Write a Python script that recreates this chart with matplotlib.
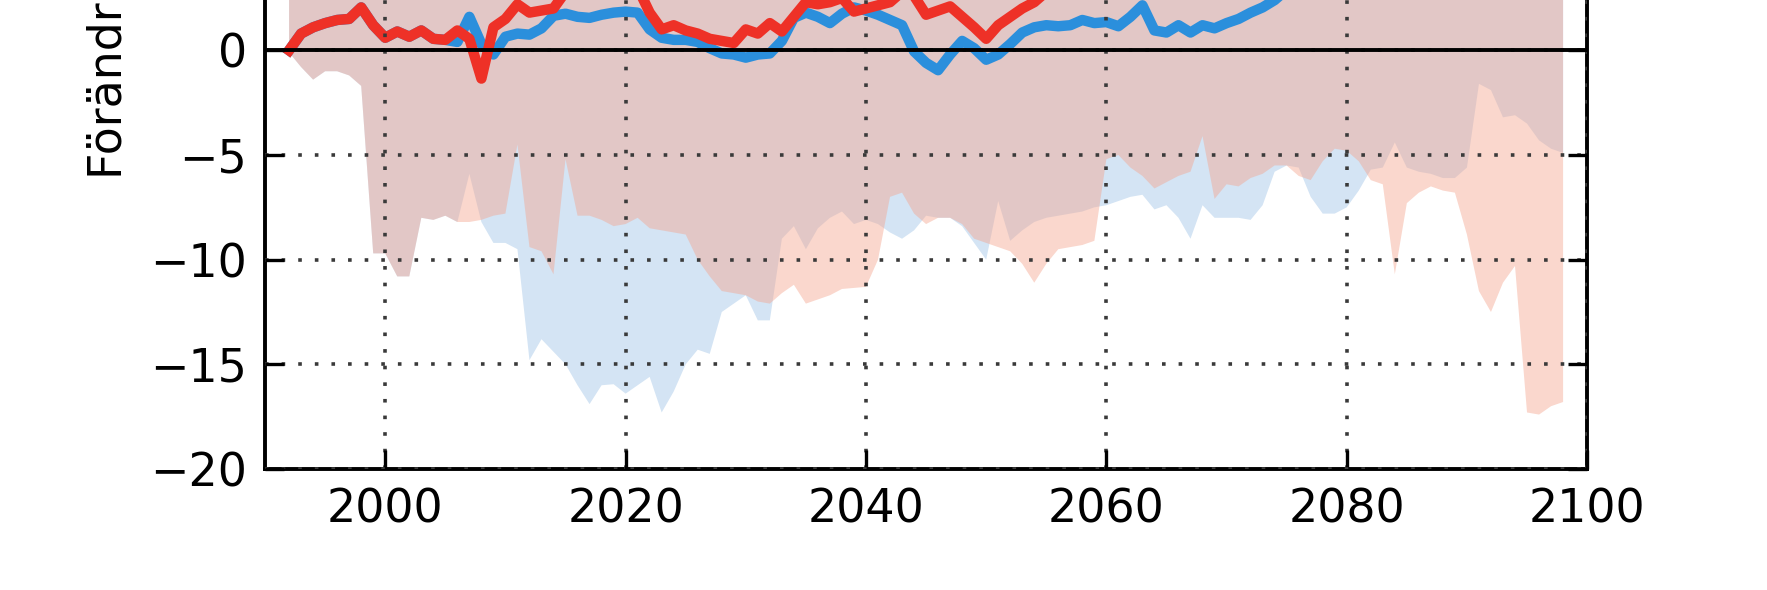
import matplotlib
matplotlib.use('Agg')
import matplotlib.pyplot as plt
import numpy as np

# years 1992-2098, one value per year
years = list(range(1992, 2099))

red_line = [0.0, 0.8, 1.1, 1.3, 1.45, 1.5, 2.05, 1.2, 0.6, 0.9,
            0.65, 0.95, 0.55, 0.5, 0.95, 0.55, -1.35, 1.1, 1.5, 2.2,
            1.8, 1.9, 2.0, 2.8, 3.2, 3.0, 3.4, 3.1, 3.0, 3.0,
            1.8, 1.0, 1.2, 0.95, 0.8, 0.55, 0.45, 0.35, 1.0, 0.8,
            1.3, 0.9, 1.6, 2.3, 2.2, 2.3, 2.5, 1.85, 2.0, 2.15,
            2.3, 2.8, 2.6, 1.7, 1.9, 2.1, 1.6, 1.1, 0.55, 1.2,
            1.6, 2.0, 2.3, 2.8, 3.2, 3.5, 3.4, 3.9, 4.2, 4.0,
            4.5, 4.8, 4.6, 5.1, 5.4, 5.2, 5.7, 6.0, 5.8, 6.3,
            6.5, 6.2, 6.8, 7.0, 6.9, 7.3, 7.6, 7.4, 7.9, 8.1,
            7.8, 8.3, 8.6, 8.4, 8.9, 9.1, 8.8, 9.4, 9.6, 9.3,
            9.8, 10.1, 9.9, 10.4, 10.6, 10.3, 10.8]

blue_line = [0.0, 0.8, 1.1, 1.3, 1.45, 1.5, 2.05, 1.2, 0.6, 0.9,
             0.65, 0.95, 0.55, 0.5,
             0.4, 1.6, 0.3, -0.2, 0.65, 0.8, 0.75, 1.05, 1.65, 1.75,
             1.6, 1.55, 1.7, 1.8, 1.85, 1.8, 1.0, 0.6, 0.5, 0.5,
             0.4, 0.1, -0.15, -0.2, -0.35, -0.2, -0.15, 0.45, 1.55, 1.8,
             1.6, 1.3, 1.75, 2.05, 1.9, 1.7, 1.45, 1.2, -0.05, -0.6,
             -0.95, -0.2, 0.45, 0.1, -0.45, -0.2, 0.3, 0.85, 1.1, 1.2,
             1.15, 1.2, 1.45, 1.3, 1.35, 1.15, 1.6, 2.15, 0.95, 0.85,
             1.2, 0.85, 1.2, 1.05, 1.3, 1.5, 1.8, 2.05, 2.4, 2.9,
             3.1, 3.0, 3.4, 3.3, 3.6, 3.5, 3.9, 3.8, 4.1, 4.0,
             4.3, 4.5, 4.2, 4.6, 4.8, 4.5, 4.9, 5.1, 4.8, 5.2,
             5.4, 5.1, 5.5]

red_lo = [-0.1, -0.8, -1.4, -1.0, -1.0, -1.2, -1.7, -9.7, -9.7, -10.8,
          -10.8, -8.0, -8.1, -7.9, -8.2, -8.2, -8.1, -7.9, -7.8, -4.5,
          -9.4, -9.6, -10.7, -5.2, -7.9, -7.9, -8.1, -8.4, -8.3, -8.0,
          -8.5, -8.6, -8.7, -8.8, -10.0, -10.8, -11.5, -11.6, -11.7, -12.0,
          -12.1, -11.6, -11.2, -12.1, -11.9, -11.7, -11.4, -11.35, -11.3, -10.0,
          -7.0, -6.8, -7.8, -8.3, -8.0, -8.0, -8.3, -9.0, -9.2, -9.4,
          -9.6, -10.2, -11.1, -10.2, -9.5, -9.4, -9.3, -9.1, -5.2, -5.0,
          -5.6, -6.0, -6.6, -6.3, -6.0, -5.8, -4.1, -7.1, -6.4, -6.5,
          -6.1, -5.9, -5.5, -5.5, -6.0, -6.2, -5.3, -4.7, -4.8, -5.3,
          -6.2, -6.4, -10.7, -7.3, -6.8, -6.5, -6.7, -6.8, -8.8, -11.5,
          -12.5, -11.1, -10.3, -17.3, -17.4, -17.0, -16.8]

blue_lo = [-0.1, -0.8, -1.4, -1.0, -1.0, -1.2, -1.7, -9.7, -9.7, -10.8,
           -10.8, -8.0, -8.1, -7.9,
           -8.2, -5.9, -8.2, -9.2, -9.2, -9.5, -14.8, -13.8, -14.4, -15.0,
           -16.0, -16.9, -16.0, -15.95, -16.4, -16.0, -15.6, -17.3, -16.3, -15.0,
           -14.3, -14.5, -12.5, -12.1, -11.7, -12.9, -12.9, -9.0, -8.4, -9.5,
           -8.5, -8.0, -7.7, -8.3, -8.1, -8.3, -8.7, -9.0, -8.6, -7.9,
           -8.0, -8.0, -8.4, -9.2, -10.0, -7.2, -9.1, -8.6, -8.2, -8.0,
           -7.9, -7.8, -7.7, -7.5, -7.4, -7.2, -7.0, -6.9, -7.6, -7.4,
           -8.0, -9.0, -7.4, -8.0, -8.0, -8.0, -8.1, -7.4, -5.8, -5.5,
           -5.6, -7.0, -7.8, -7.8, -7.5, -6.7, -5.7, -5.6, -4.4, -5.6,
           -5.8, -5.9, -6.1, -6.1, -5.6, -1.6, -1.9, -3.2, -3.1, -3.5,
           -4.3, -4.7, -4.9]

# upper bounds lie above the visible part of the picture
red_hi = [3.5, 5.0, 6.2, 7.0, 7.4, 8.1, 8.6, 9.0, 9.3, 9.1,
          9.6, 10.0, 9.8, 10.3, 10.9, 11.2, 10.8, 11.5, 11.9, 12.3,
          12.0, 12.6, 13.1, 12.8, 13.4, 13.9, 13.5, 14.2, 14.6, 14.3,
          14.9, 15.2, 15.0, 15.6, 16.1, 15.8, 16.4, 16.9, 16.6, 17.2,
          17.5, 17.1, 17.8, 18.3, 18.0, 18.6, 19.0, 18.7, 19.3, 19.8,
          19.4, 20.1, 20.5, 20.2, 20.8, 21.3, 20.9, 21.6, 22.0, 21.7,
          22.3, 22.8, 22.4, 23.1, 23.5, 23.2, 23.8, 24.3, 23.9, 24.6,
          25.0, 24.7, 25.3, 25.8, 25.4, 26.1, 26.5, 26.2, 26.8, 27.3,
          26.9, 27.6, 28.0, 27.7, 28.3, 28.8, 28.4, 29.1, 29.5, 29.2,
          29.8, 30.3, 29.9, 30.6, 31.0, 30.7, 31.3, 31.8, 31.4, 32.1,
          32.5, 32.2, 32.8, 33.3, 32.9, 33.6, 34.0]

blue_hi = [3.5, 5.0, 6.2, 7.0, 7.4, 8.1, 8.6, 9.0, 9.3, 9.1,
           9.6, 10.0, 9.8, 10.3,
           10.6, 10.9, 10.5, 11.0, 11.3, 11.7, 11.4, 11.9, 12.2, 11.9,
           12.4, 12.8, 12.5, 13.0, 13.3, 13.1, 13.6, 13.9, 13.6, 14.1,
           14.4, 14.2, 14.7, 15.0, 14.8, 15.3, 15.6, 15.4, 15.9, 16.2,
           16.0, 16.4, 16.7, 16.5, 17.0, 17.3, 17.1, 17.5, 17.8, 17.6,
           18.0, 18.3, 18.1, 18.5, 18.8, 18.6, 19.0, 19.3, 19.1, 19.5,
           19.8, 19.6, 20.0, 20.3, 20.1, 20.5, 20.8, 20.6, 21.0, 21.3,
           21.1, 21.5, 21.8, 21.6, 22.0, 22.3, 22.1, 22.5, 22.8, 22.6,
           23.0, 23.3, 23.1, 23.5, 23.8, 23.6, 24.0, 24.3, 24.1, 24.5,
           24.8, 24.6, 25.0, 25.3, 25.1, 25.5, 25.8, 25.6, 26.0, 26.3,
           26.1, 26.5, 26.8]

fig = plt.figure(figsize=(17.67, 5.9), dpi=100)
# the top of the axes is cut off in the reference picture
ax = fig.add_axes([0.1500, 0.2051, 0.7482, 1.5966])

ax.fill_between(years, blue_lo, blue_hi, color='#9dc2e6', alpha=0.44, linewidth=0)
ax.fill_between(years, red_lo, red_hi, color='#f4a48d', alpha=0.44, linewidth=0)
ax.plot(years, blue_line, color='#2b8fdc', lw=7.5, solid_joinstyle='round')
ax.plot(years, red_line, color='#ee3127', lw=7.5, solid_joinstyle='round')
ax.axhline(0, color='k', lw=2.8, zorder=3)

ax.set_xlim(1990, 2100)
ax.set_ylim(-20, 25)
ax.set_xticks([2000, 2020, 2040, 2060, 2080, 2100])
ax.set_yticks(np.arange(-20, 26, 5))
ax.set_axisbelow(False)
ax.grid(True, color='#3a3a3a', linestyle=(0, (1, 3.6)), lw=2.6)

for s in ax.spines.values():
    s.set_linewidth(2.8)
ax.tick_params(direction='in', length=14, width=2.4, labelsize=33, pad=13,
               right=True, top=True)

ax.set_ylabel('Förändring (%)', fontsize=33)
ax.yaxis.set_label_coords(-0.101, 0.4889)

plt.savefig('out.png', dpi=100)
